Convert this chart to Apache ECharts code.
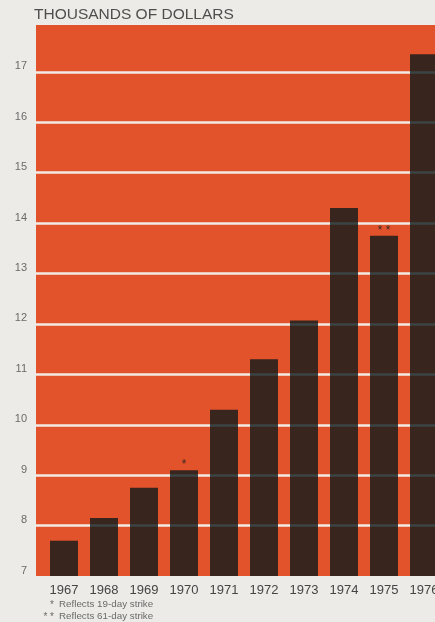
<!DOCTYPE html>
<html>
<head>
<meta charset="utf-8">
<title>Thousands of Dollars, 1967–1976</title>
<script src="https://cdn.jsdelivr.net/npm/echarts@6/dist/echarts.min.js"></script>
<style>
  html, body { margin: 0; padding: 0; background: #ecebe7; }
  #chart { width: 435px; height: 622px; }
</style>
</head>
<body>
<div id="chart"></div>
<script>
// Yearly values, in thousands of dollars
const years = [1967, 1968, 1969, 1970, 1971, 1972, 1973, 1974, 1975, 1976];
const values = [7.7, 8.15, 8.75, 9.1, 10.3, 11.3, 12.07, 14.3, 13.75, 17.35];
// Strike markers shown above the affected years
const notes = ['', '', '', '*', '', '', '', '', '* *', ''];
// Axis tick labels and white rule positions
const yTicks = [7, 8, 9, 10, 11, 12, 13, 14, 15, 16, 17];
const ruleValues = [8, 9, 10, 11, 12, 13, 14, 15, 16, 17];
// Footnote marks and texts
const footMarks = ['*', '* *'];
const footTexts = ['Reflects 19-day strike', 'Reflects 61-day strike'];

const FONT = '"Liberation Sans", Arial, Helvetica, sans-serif';
const ORANGE = '#e2522b';

const chart = echarts.init(document.getElementById('chart'), null, { renderer: 'canvas' });

const footGraphics = [];
footTexts.forEach((t, i) => {
  footGraphics.push({
    type: 'text',
    x: 54, y: 605 + i * 12.5,
    style: { text: footMarks[i], fill: '#6a6a6a', font: '10px ' + FONT, textAlign: 'right', textVerticalAlign: 'middle' }
  });
  footGraphics.push({
    type: 'text',
    x: 59, y: 604 + i * 12.5,
    style: { text: t, fill: '#6a6a6a', font: '9.8px ' + FONT, textAlign: 'left', textVerticalAlign: 'middle' }
  });
});

chart.setOption({
  animation: false,
  backgroundColor: '#ecebe7',
  title: {
    text: 'THOUSANDS OF DOLLARS',
    left: 34, top: 7, padding: 0,
    textStyle: { fontFamily: FONT, fontSize: 15.5, fontWeight: 'normal', color: '#4e4e4e' }
  },
  grid: {
    left: 36, right: -9, top: 25, bottom: 46,
    show: true, backgroundColor: ORANGE, borderWidth: 0,
    outerBoundsMode: 'none'
  },
  xAxis: {
    type: 'value',
    min: 1966.3, max: 1976.5,
    axisLine: { show: false },
    axisTick: { show: false },
    splitLine: { show: false },
    axisLabel: {
      customValues: years,
      formatter: v => String(v),
      margin: 8,
      fontFamily: FONT, fontSize: 13, color: '#454545'
    }
  },
  yAxis: {
    type: 'value',
    min: 7, max: 17.93,
    axisLine: { show: false },
    axisTick: { show: false },
    splitLine: { show: false },
    axisLabel: {
      customValues: yTicks,
      formatter: v => String(v),
      margin: 9,
      verticalAlign: 'bottom',
      fontFamily: FONT, fontSize: 11, color: '#6a6a6a'
    }
  },
  series: [{
    type: 'bar',
    barWidth: 28,
    clip: true,
    data: years.map((y, i) => [y, values[i]]),
    itemStyle: { color: 'rgba(14, 26, 28, 0.8)' },
    label: {
      show: true,
      position: 'top',
      distance: -1,
      formatter: p => notes[p.dataIndex],
      fontFamily: FONT, fontSize: 12, color: '#3a2a24'
    },
    markLine: {
      silent: true,
      z: 1,
      symbol: 'none',
      label: { show: false },
      emphasis: { disabled: true },
      lineStyle: { color: '#f1ebe4', width: 2.6, type: 'solid', opacity: 1 },
      data: ruleValues.map(v => ({ yAxis: v }))
    }
  }],
  graphic: footGraphics
});
</script>
</body>
</html>
